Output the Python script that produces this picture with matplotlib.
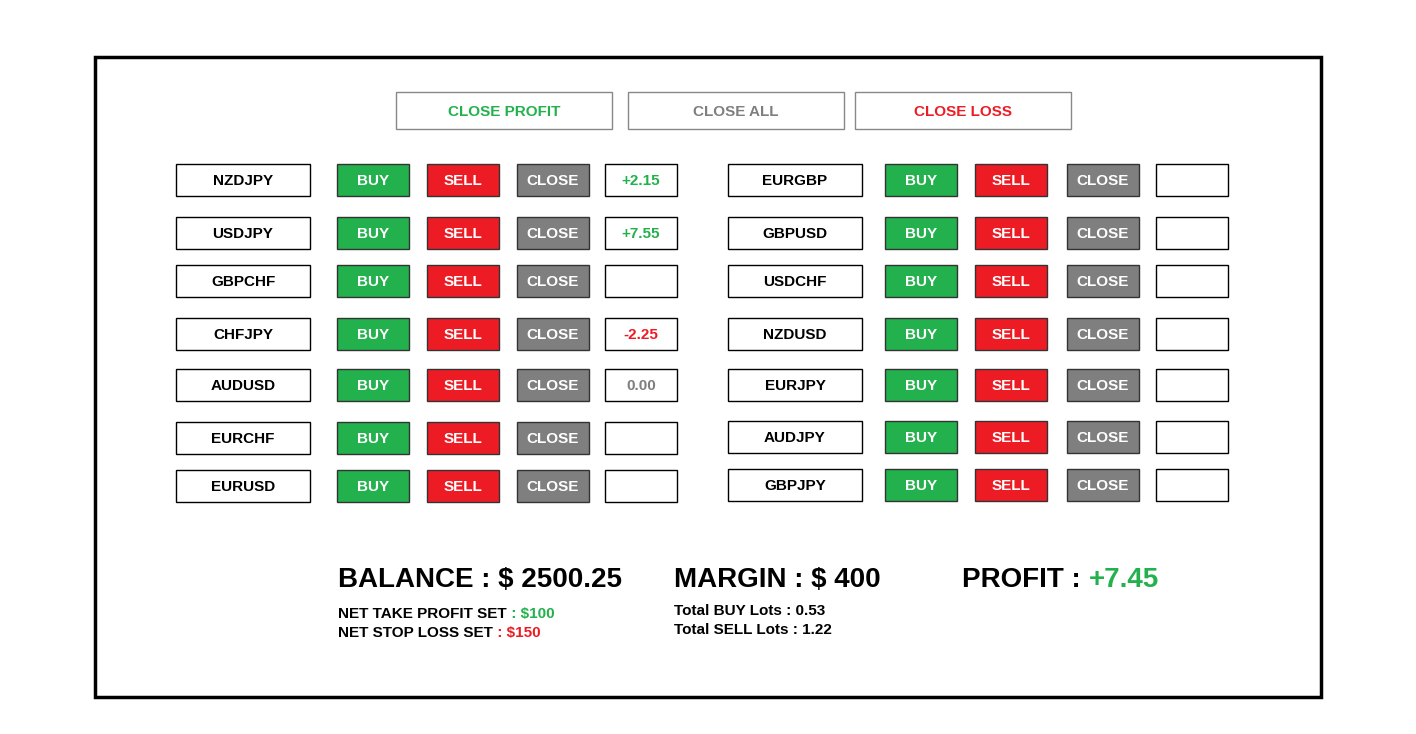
import matplotlib
matplotlib.use("Agg")
import matplotlib.pyplot as plt
from matplotlib.patches import Rectangle

left_pairs = ["NZDJPY", "USDJPY", "GBPCHF", "CHFJPY", "AUDUSD", "EURCHF", "EURUSD"]
left_values = ["+2.15", "+7.55", "", "-2.25", "0.00", "", ""]
right_pairs = ["EURGBP", "GBPUSD", "USDCHF", "NZDUSD", "EURJPY", "AUDJPY", "GBPJPY"]
right_values = ["", "", "", "", "", "", ""]
top_buttons = ["CLOSE PROFIT", "CLOSE ALL", "CLOSE LOSS"]
balance = "2500.25"
margin = "400"
profit = "+7.45"
take_profit = "$100"
stop_loss = "$150"
buy_lots = "0.53"
sell_lots = "1.22"

GREEN = "#22b14c"; RED = "#ed1c24"; GRAY = "#7f7f7f"
FONT = "Liberation Sans"

fig = plt.figure(figsize=(14.16, 7.34), dpi=100)
ax = fig.add_axes([0, 0, 1, 1])
ax.set_xlim(0, 1416); ax.set_ylim(734, 0); ax.axis("off")

def box(x, y, w, h, fc="white", ec="black", lw=1.0, text="", tc="black", fs=11):
    ax.add_patch(Rectangle((x, y), w, h, facecolor=fc, edgecolor=ec, lw=lw))
    if text:
        ax.text(x + w / 2, y + h / 2 + 1, text, ha="center", va="center",
                color=tc, fontsize=fs, fontweight="bold", family=FONT)

ax.add_patch(Rectangle((95, 57), 1226, 640, facecolor="none", edgecolor="black", lw=2.5))

tcolors = [GREEN, GRAY, RED]
for i, (t, x) in enumerate(zip(top_buttons, [396, 628, 855])):
    box(x, 92, 216, 37, ec="#888888", text=t, tc=tcolors[i], fs=11)

def vcolor(v):
    if v.startswith("+"): return GREEN
    if v.startswith("-"): return RED
    return GRAY

left_y = [164, 217, 265, 318, 369, 422, 470]
right_y = [164, 217, 265, 318, 369, 421, 469]
for col, (pairs, vals, ys, xs) in enumerate([
        (left_pairs, left_values, left_y, [176, 337, 427, 517, 605]),
        (right_pairs, right_values, right_y, [728, 885, 975, 1067, 1156])]):
    for p, v, y in zip(pairs, vals, ys):
        box(xs[0], y, 134, 32, text=p)
        box(xs[1], y, 72, 32, fc=GREEN, ec="#333333", text="BUY", tc="white")
        box(xs[2], y, 72, 32, fc=RED, ec="#333333", text="SELL", tc="white")
        box(xs[3], y, 72, 32, fc=GRAY, ec="#333333", text="CLOSE", tc="white")
        box(xs[4], y, 72, 32, text=v, tc=vcolor(v))

big = dict(fontsize=20, fontweight="bold", family=FONT, va="center")
small = dict(fontsize=11, fontweight="bold", family=FONT, va="center")
ax.text(338, 580, f"BALANCE : $ {balance}", color="black", **big)
ax.text(674, 580, f"MARGIN : $ {margin}", color="black", **big)
t = ax.text(962, 580, "PROFIT : ", color="black", **big)
fig.canvas.draw()
bb = t.get_window_extent()
x_end = bb.x1
ax.text(x_end, 734 - (bb.y0 + bb.y1) / 2, profit, color=GREEN,
        fontsize=20, fontweight="bold", family=FONT, va="center",
        transform=None) if False else None
inv = ax.transData.inverted()
px = inv.transform((bb.x1, 0))[0]
ax.text(px, 580, profit, color=GREEN, **big)

def two(x, y, a, b, cb):
    t1 = ax.text(x, y, a, color="black", **small)
    fig.canvas.draw()
    e = t1.get_window_extent()
    ax.text(inv.transform((e.x1, 0))[0], y, b, color=cb, **small)

two(338, 614, "NET TAKE PROFIT SET", " : " + take_profit, GREEN)
two(338, 633, "NET STOP LOSS SET", " : " + stop_loss, RED)
ax.text(674, 611, f"Total BUY Lots : {buy_lots}", color="black", **small)
ax.text(674, 630, f"Total SELL Lots : {sell_lots}", color="black", **small)

fig.savefig("out.png", dpi=100)
